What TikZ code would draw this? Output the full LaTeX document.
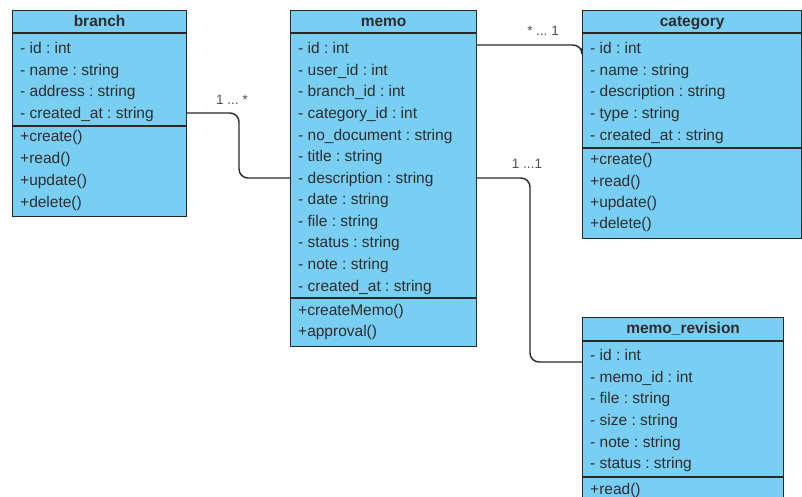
\documentclass[tikz,border=0pt]{standalone}
\usepackage{fontspec}
\setmainfont{Liberation Sans}
\usetikzlibrary{calc}
\definecolor{classfill}{RGB}{120,206,243}
\definecolor{txt}{RGB}{45,45,45}
\definecolor{edge}{RGB}{40,40,40}
\definecolor{lbl}{RGB}{80,80,80}
\begin{document}
\frenchspacing
\begin{tikzpicture}[x=1pt,y=-1pt,
  classbox/.style={draw=edge,line width=1.2pt,fill=classfill,rectangle,anchor=north west,inner sep=0pt},
  sep/.style={draw=edge,line width=1.2pt},
  title/.style={font=\fontsize{15.5}{18}\selectfont\bfseries,text=txt,inner sep=0pt,text height=12.4pt,text depth=1pt},
  attr/.style={font=\fontsize{15.5}{18}\selectfont,text=txt,anchor=west,inner sep=0pt,text height=12.4pt,text depth=1pt},
  conn/.style={draw=edge,line width=1.4pt,rounded corners=9pt},
  mult/.style={font=\fontsize{13.5}{16}\selectfont,text=lbl,inner sep=0pt,text height=10pt,text depth=0pt}]
\useasboundingbox (0,0) rectangle (802,497);
\fill[white] (0,0) rectangle (802,497);

% ---------- branch ----------
\node[classbox,minimum width=174pt,minimum height=206pt] (branch) at (12,10) {};
\draw[sep] ([yshift=-23pt]branch.north west) -- ([yshift=-23pt]branch.north east);
\draw[sep] ([yshift=-116pt]branch.north west) -- ([yshift=-116pt]branch.north east);
\node[title] (branchT) at ([yshift=-11pt]branch.north) {branch};
\node[attr] (b1) at (20,48) {- id : int};
\node[attr] (b2) at (20,70) {- name : string};
\node[attr] (b3) at (20,91) {- address : string};
\node[attr] (b4) at (20,113) {- created\_at : string};
\node[attr] (b5) at (20,136) {+create()};
\node[attr] (b6) at (20,158) {+read()};
\node[attr] (b7) at (20,180) {+update()};
\node[attr] (b8) at (20,202) {+delete()};

% ---------- memo ----------
\node[classbox,minimum width=186pt,minimum height=336pt] (memo) at (290,10) {};
\draw[sep] ([yshift=-23pt]memo.north west) -- ([yshift=-23pt]memo.north east);
\draw[sep] ([yshift=-288pt]memo.north west) -- ([yshift=-288pt]memo.north east);
\node[title] (memoT) at ([yshift=-11pt]memo.north) {memo};
\node[attr] (m1) at (298,48) {- id : int};
\node[attr] (m2) at (298,70) {- user\_id : int};
\node[attr] (m3) at (298,91) {- branch\_id : int};
\node[attr] (m4) at (298,113) {- category\_id : int};
\node[attr] (m5) at (298,135) {- no\_document : string};
\node[attr] (m6) at (298,156) {- title : string};
\node[attr] (m7) at (298,178) {- description : string};
\node[attr] (m8) at (298,199) {- date : string};
\node[attr] (m9) at (298,221) {- file : string};
\node[attr] (m10) at (298,242) {- status : string};
\node[attr] (m11) at (298,264) {- note : string};
\node[attr] (m12) at (298,286) {- created\_at : string};
\node[attr] (m13) at (298,310) {+createMemo()};
\node[attr] (m14) at (298,331) {+approval()};

% ---------- category ----------
\node[classbox,minimum width=219pt,minimum height=228pt] (cat) at (582,10) {};
\draw[sep] ([yshift=-23pt]cat.north west) -- ([yshift=-23pt]cat.north east);
\draw[sep] ([yshift=-138pt]cat.north west) -- ([yshift=-138pt]cat.north east);
\node[title] (catT) at ([yshift=-11pt]cat.north) {category};
\node[attr] (c1) at (590,48) {- id : int};
\node[attr] (c2) at (590,70) {- name : string};
\node[attr] (c3) at (590,91) {- description : string};
\node[attr] (c4) at (590,113) {- type : string};
\node[attr] (c5) at (590,135) {- created\_at : string};
\node[attr] (c6) at (590,159) {+create()};
\node[attr] (c7) at (590,181) {+read()};
\node[attr] (c8) at (590,202) {+update()};
\node[attr] (c9) at (590,223) {+delete()};

% ---------- memo_revision ----------
\node[classbox,minimum width=201pt,minimum height=200pt] (rev) at (582,317) {};
\draw[sep] ([yshift=-24pt]rev.north west) -- ([yshift=-24pt]rev.north east);
\draw[sep] ([yshift=-160pt]rev.north west) -- ([yshift=-160pt]rev.north east);
\node[title] (revT) at ([yshift=-11pt]rev.north) {memo\_revision};
\node[attr] (r1) at (590,355) {- id : int};
\node[attr] (r2) at (590,377) {- memo\_id : int};
\node[attr] (r3) at (590,398) {- file : string};
\node[attr] (r4) at (590,420) {- size : string};
\node[attr] (r5) at (590,442) {- note : string};
\node[attr] (r6) at (590,463) {- status : string};
\node[attr] (r7) at (590,489) {+read()};

% ---------- connectors ----------
\draw[conn] (branch.east |- b4) -| (239,150) |- (memo.west |- m7);
\draw[conn] (memo.east |- 0,45) -| (cat.west |- c1);
\draw[conn] (memo.east |- m7) -| (530,300) |- (rev.west |- 0,362);

\node[mult] (l1) at (232,100) {1 ... *};
\node[mult] (l2) at (543,31) {* ... 1};
\node[mult] (l3) at (527,163) {1 ...1};
\end{tikzpicture}
\end{document}
